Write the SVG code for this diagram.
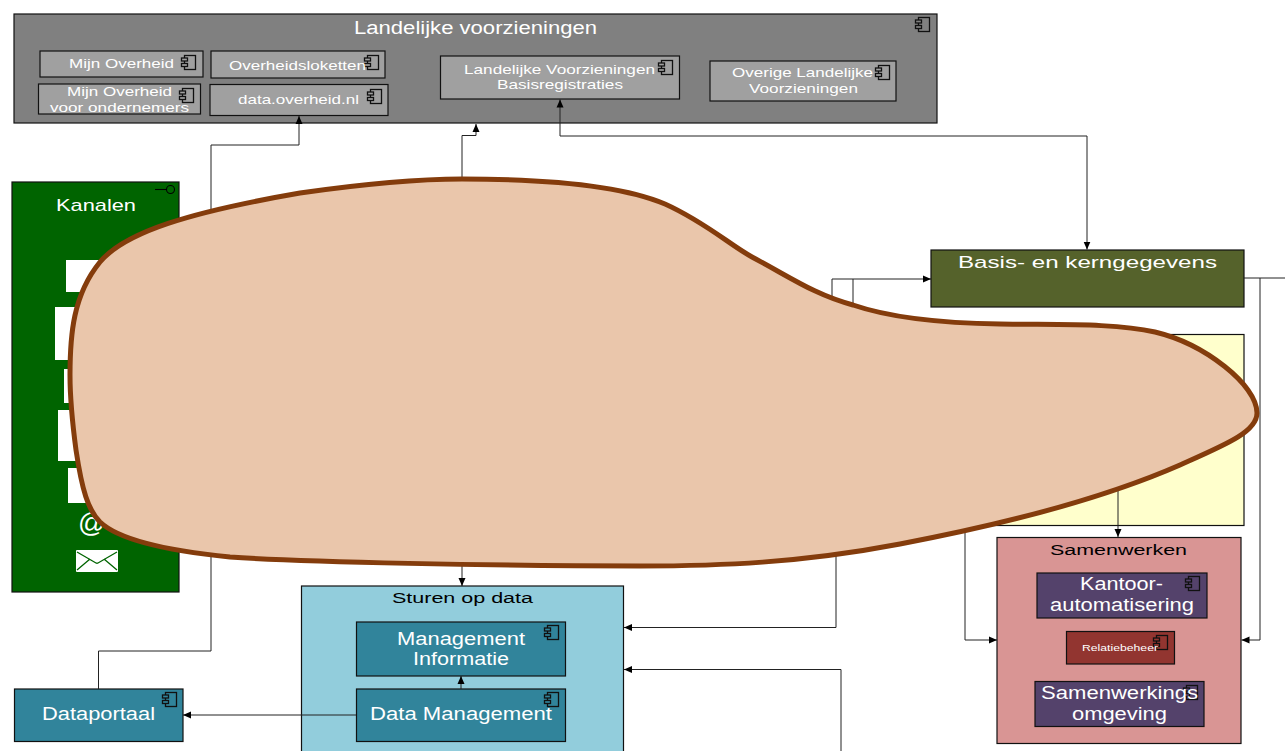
<svg xmlns="http://www.w3.org/2000/svg" width="1285" height="751" viewBox="0 0 1285 751">
<style>
text{font-family:"Liberation Sans",Arial,sans-serif;fill:#fff}
.b{stroke:#111;stroke-width:1.2}
.c{fill:none;stroke:#222;stroke-width:1}
</style>
<defs>
<marker id="a" markerUnits="userSpaceOnUse" markerWidth="9" markerHeight="8" refX="8" refY="4" orient="auto-start-reverse"><path d="M0,0.500L8,4L0,7.500Z" fill="#000"/></marker>
<symbol id="comp" overflow="visible"><g stroke="#111" stroke-width="1.300"><rect x="3.500" y="0.500" width="11" height="14"/><rect x="0.500" y="3" width="6" height="3"/><rect x="0.500" y="8.500" width="6" height="3"/></g></symbol>
</defs>
<g id="landelijke">
<rect class="b" x="14" y="14" width="923" height="109" fill="#808080"/>
<text x="354" y="34" font-size="18" textLength="243" lengthAdjust="spacingAndGlyphs">Landelijke voorzieningen</text>
<use href="#comp" x="915" y="17" fill="#808080"/>
</g>
<g id="mijn-overheid" fill="#a0a0a0">
<rect class="b" x="40" y="51" width="163" height="26"/>
<text x="69" y="68" font-size="13.500" textLength="105" lengthAdjust="spacingAndGlyphs">Mijn Overheid</text>
<use href="#comp" x="181" y="55"/>
</g>
<g id="overheidsloketten" fill="#a0a0a0">
<rect class="b" x="211" y="51" width="174" height="27"/>
<use href="#comp" x="364" y="55"/>
<text x="229" y="70" font-size="13.500" textLength="137" lengthAdjust="spacingAndGlyphs">Overheidsloketten</text>
</g>
<g id="mijn-overheid-ondernemers" fill="#a0a0a0">
<rect class="b" x="38.500" y="84" width="162" height="30"/>
<text x="67" y="96" font-size="13.500" textLength="105" lengthAdjust="spacingAndGlyphs">Mijn Overheid</text>
<text x="50" y="112" font-size="13.500" textLength="139" lengthAdjust="spacingAndGlyphs">voor ondernemers</text>
<use href="#comp" x="179" y="88"/>
</g>
<g id="data-overheid" fill="#a0a0a0">
<rect class="b" x="210" y="84.500" width="178" height="31"/>
<text x="238" y="104" font-size="13.500" textLength="121" lengthAdjust="spacingAndGlyphs">data.overheid.nl</text>
<use href="#comp" x="367" y="89"/>
</g>
<g id="lv-basisregistraties" fill="#a0a0a0">
<rect class="b" x="440.500" y="56" width="239" height="43"/>
<text x="464" y="74" font-size="13.500" textLength="191" lengthAdjust="spacingAndGlyphs">Landelijke Voorzieningen</text>
<text x="497" y="89" font-size="13.500" textLength="126" lengthAdjust="spacingAndGlyphs">Basisregistraties</text>
<use href="#comp" x="658" y="60"/>
</g>
<g id="overige" fill="#a0a0a0">
<rect class="b" x="710" y="61" width="186" height="40"/>
<text x="732" y="77" font-size="13.500" textLength="141" lengthAdjust="spacingAndGlyphs">Overige Landelijke</text>
<text x="749" y="93" font-size="13.500" textLength="109" lengthAdjust="spacingAndGlyphs">Voorzieningen</text>
<use href="#comp" x="875" y="65"/>
</g>
<g id="kanalen">
<rect class="b" x="12" y="182" width="167" height="410" fill="#006400"/>
<text x="56" y="211" font-size="17" textLength="80" lengthAdjust="spacingAndGlyphs">Kanalen</text>
<path d="M155,189.500H166" stroke="#000" stroke-width="1.100" fill="none"/><circle cx="170.500" cy="189.500" r="4" fill="none" stroke="#000" stroke-width="1.100"/>
<g fill="#fff">
<rect x="66" y="260" width="60" height="32"/>
<rect x="55" y="307" width="80" height="53"/>
<rect x="64" y="369" width="60" height="34"/>
<rect x="58" y="410" width="70" height="51"/>
<rect x="68" y="468" width="50" height="35"/>
<rect x="76" y="550" width="42" height="22" rx="1"/>
</g>
<path d="M77,552L96,563Q97,563.500 98,563L117,552M77,570L90,559M117,570L104,559" fill="none" stroke="#006400" stroke-width="1.300"/>
<text x="78" y="532" font-size="27">@</text>
</g>
<g id="basis">
<rect class="b" x="931" y="250" width="313" height="57" fill="#55622b"/>
<text x="958" y="268" font-size="17" textLength="259" lengthAdjust="spacingAndGlyphs">Basis- en kerngegevens</text>
</g>
<g id="geel">
<rect class="b" x="965" y="334.500" width="279" height="191" fill="#ffffcc"/>
</g>
<g id="samenwerken">
<rect class="b" x="997" y="537.500" width="244" height="206" fill="#d99594"/>
<text x="1050" y="555" font-size="15.500" textLength="137" lengthAdjust="spacingAndGlyphs" style="fill:#000">Samenwerken</text>
</g>
<g id="kantoor" fill="#54426b">
<rect class="b" x="1037" y="573" width="170" height="45"/>
<text x="1080" y="590" font-size="17.500" textLength="83" lengthAdjust="spacingAndGlyphs">Kantoor-</text>
<text x="1050" y="611" font-size="17.500" textLength="144" lengthAdjust="spacingAndGlyphs">automatisering</text>
<use href="#comp" x="1185" y="576"/>
</g>
<g id="relatiebeheer" fill="#923530">
<rect class="b" x="1066.500" y="631.500" width="108" height="32.500"/>
<use href="#comp" x="1153" y="635"/>
<text x="1082" y="651" font-size="9.500" textLength="76" lengthAdjust="spacingAndGlyphs">Relatiebeheer</text>
</g>
<g id="samenwerkingsomgeving" fill="#54426b">
<rect class="b" x="1035" y="681.500" width="169" height="45"/>
<use href="#comp" x="1183" y="685"/>
<text x="1041" y="699" font-size="17.500" textLength="157" lengthAdjust="spacingAndGlyphs">Samenwerkings</text>
<text x="1072" y="720" font-size="17.500" textLength="95" lengthAdjust="spacingAndGlyphs">omgeving</text>
</g>
<g id="sturen">
<rect class="b" x="301.500" y="586" width="322" height="175" fill="#92cddc"/>
<text x="392" y="603" font-size="15.500" textLength="141" lengthAdjust="spacingAndGlyphs" style="fill:#000">Sturen op data</text>
</g>
<g id="management-informatie" fill="#31849b">
<rect class="b" x="356.500" y="622" width="209" height="54"/>
<text x="397" y="645" font-size="17.500" textLength="128" lengthAdjust="spacingAndGlyphs">Management</text>
<text x="413" y="665" font-size="17.500" textLength="96" lengthAdjust="spacingAndGlyphs">Informatie</text>
<use href="#comp" x="544" y="625"/>
</g>
<g id="data-management" fill="#31849b">
<rect class="b" x="356.500" y="689" width="209" height="52.500"/>
<text x="370" y="720" font-size="17.500" textLength="182" lengthAdjust="spacingAndGlyphs">Data Management</text>
<use href="#comp" x="544" y="692"/>
</g>
<g id="dataportaal" fill="#31849b">
<rect class="b" x="14.500" y="689" width="168.500" height="52.500"/>
<text x="42" y="720" font-size="17.500" textLength="113" lengthAdjust="spacingAndGlyphs">Dataportaal</text>
<use href="#comp" x="162" y="692"/>
</g>
<g id="connectors">
<path class="c" d="M211,215V145H299V116" marker-end="url(#a)"/>
<path class="c" d="M462,185V135.500H476V124" marker-end="url(#a)"/>
<path class="c" d="M560,99.500V136H1087V249.500" marker-start="url(#a)" marker-end="url(#a)"/>
<path class="c" d="M832,300V279H931" marker-end="url(#a)"/>
<path class="c" d="M853,310V279"/>
<path class="c" d="M1244,278H1285"/>
<path class="c" d="M1260,278V640H1241.500" marker-end="url(#a)"/>
<path class="c" d="M965,520V640H997" marker-end="url(#a)"/>
<path class="c" d="M1118,480V537" marker-end="url(#a)"/>
<path class="c" d="M836,550V627.500H624" marker-end="url(#a)"/>
<path class="c" d="M841,751V669.500H624" marker-end="url(#a)"/>
<path class="c" d="M462,560V586" marker-end="url(#a)"/>
<path class="c" d="M211,545V651H98.500V689"/>
<path class="c" d="M356,715H183" marker-end="url(#a)"/>
<path class="c" d="M461,689V676" marker-end="url(#a)"/>
</g>
<path id="blob" d="M70,375 C70,335 73,295 100,262 C125,232 190,212 300,193 C370,183 420,179 462,179 C560,179 625,187 665,204 C705,222 730,245 752,257 C790,277 815,295 853,305 C885,316 930,323 1000,324 C1060,325 1115,323 1155,332 C1205,344 1257,385 1257,413 C1257,432 1225,445 1180,465 C1100,500 1000,525 900,544 C800,563 720,566 640,566 C500,566 300,562 230,557 C180,552 122,543 100,522 C88,510 82,490 76,450 C72,420 70,400 70,375 Z" fill="#eac6ab" stroke="#843c0c" stroke-width="5"/>
</svg>
